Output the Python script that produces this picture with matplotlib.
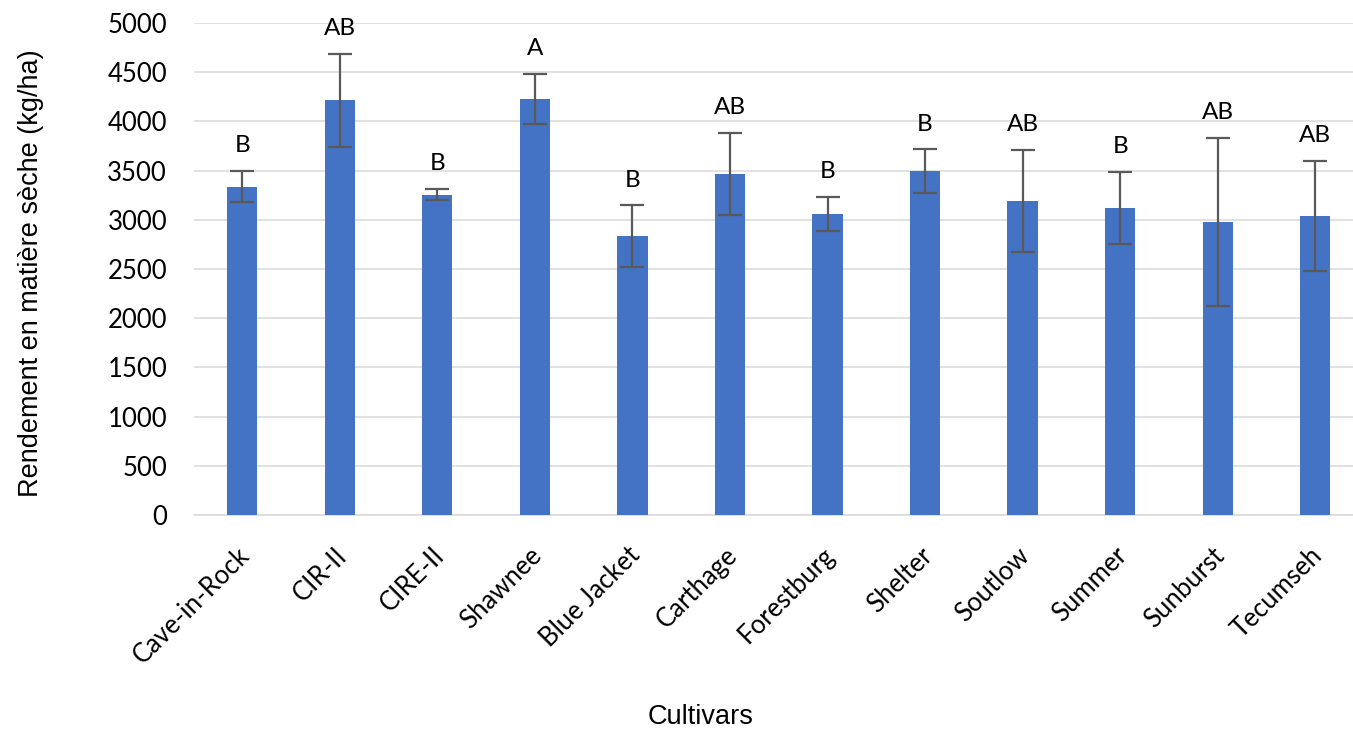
import matplotlib
matplotlib.use("Agg")
import matplotlib.pyplot as plt
import matplotlib.transforms as mtransforms
import numpy as np

cultivars = ["Cave-in-Rock", "CIR-II", "CIRE-II", "Shawnee", "Blue Jacket", "Carthage",
             "Forestburg", "Shelter", "Soutlow", "Summer", "Sunburst", "Tecumseh"]
rendement = [3336, 4214, 3255, 4228, 2832, 3465, 3059, 3496, 3188, 3123, 2978, 3042]
erreur = [160, 470, 56, 252, 315, 420, 177, 219, 520, 366, 855, 560]
lettres = ["B", "AB", "B", "A", "B", "AB", "B", "B", "AB", "B", "AB", "AB"]
yticks = [0, 500, 1000, 1500, 2000, 2500, 3000, 3500, 4000, 4500, 5000]

W, H = 1353, 730
fig = plt.figure(figsize=(W / 100, H / 100), dpi=100)
left, right, top, bottom = 193.5, 1364, 23, 515
ax = fig.add_axes([left / W, 1 - bottom / H, (right - left) / W, (bottom - top) / H])

x = np.arange(len(cultivars))
ax.bar(x, rendement, width=0.31, color="#4472C4", zorder=3)
ax.errorbar(x, rendement, yerr=erreur, fmt="none", ecolor="#595959",
            elinewidth=1.6, capsize=8.5, capthick=1.6, zorder=4)

for xi, v, e, l in zip(x, rendement, erreur, lettres):
    ax.annotate(l, xy=(xi, v + e), xytext=(0, 13.5), textcoords="offset points",
                ha="center", va="baseline", fontsize=17.5, family="Lato", color="black")

ax.set_xlim(-0.5, len(cultivars) - 0.5)
ax.set_ylim(0, 5000)
ax.set_yticks(yticks)
ax.set_yticklabels([str(t) for t in yticks], fontsize=18.5, family="Lato")
ax.yaxis.grid(True, color="#D9D9D9", linewidth=1.1, zorder=0)
ax.set_axisbelow(True)
ax.tick_params(axis="y", length=0, pad=19)
ax.tick_params(axis="x", length=0, pad=20)
ax.set_xticks(x)
ax.set_xticklabels(cultivars, rotation=45, ha="right", rotation_mode="anchor",
                   fontsize=18.5, family="Lato")
offset = mtransforms.ScaledTranslation(-4 / 72, 0, fig.dpi_scale_trans)
for lab in ax.get_xticklabels():
    lab.set_transform(lab.get_transform() + offset)
for s in ["top", "right", "left"]:
    ax.spines[s].set_visible(False)
ax.spines["bottom"].set_color("#D9D9D9")
ax.spines["bottom"].set_linewidth(1.1)

fig.text(31 / W, 1 - 273 / H, "Rendement en matière sèche (kg/ha)", rotation=90,
         ha="center", va="center", fontsize=19.5, family="Liberation Sans")
fig.text(701 / W, 1 - 717 / H, "Cultivars", ha="center", va="center",
         fontsize=19.5, family="Liberation Sans")

fig.savefig("out.png", dpi=100)
